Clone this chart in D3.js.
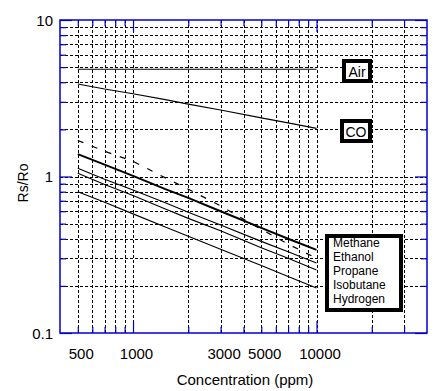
<!DOCTYPE html>
<html>
<head>
<meta charset="utf-8">
<script src="https://cdn.jsdelivr.net/npm/d3@7"></script>
<style>
  html, body { margin: 0; padding: 0; background: #fff; }
  svg { display: block; font-family: "Liberation Sans", Arial, sans-serif; }
</style>
</head>
<body>
<svg id="chart" width="434" height="391"></svg>
<script>
// ---- data ----
const concentrations = [500, 700, 1000, 1500, 2000, 3000, 5000, 7000, 10000];
const airValues       = [4.85, 4.85, 4.85, 4.85, 4.85, 4.85, 4.85, 4.85, 4.85];
const coValues        = [3.90, 3.62, 3.38, 3.10, 2.90, 2.66, 2.37, 2.20, 2.03];
const methaneValues   = [1.39, 1.19, 1.01, 0.83, 0.73, 0.60, 0.47, 0.40, 0.34];
const ethanolValues   = [1.70, 1.45, 1.25, 0.98, 0.83, 0.65, 0.46, 0.37, 0.30];
const propaneValues   = [1.13, 0.96, 0.82, 0.68, 0.59, 0.49, 0.385, 0.33, 0.28];
const isobutaneValues = [1.05, 0.89, 0.755, 0.62, 0.54, 0.45, 0.35, 0.30, 0.253];
const hydrogenValues  = [0.80, 0.685, 0.577, 0.475, 0.415, 0.343, 0.27, 0.23, 0.194];

const xMajorTicks = [1000, 10000];
const xTickLabels = [500, 1000, 3000, 5000, 10000];
const xGridValues = [500, 600, 700, 800, 900, 1000, 2000, 3000, 4000, 5000, 6000, 7000, 8000, 9000, 10000, 20000, 30000];
const yMajorTicks = [0.1, 1, 10];
const yGridValues = [0.2, 0.3, 0.4, 0.5, 0.6, 0.7, 0.8, 0.9, 1, 2, 3, 4, 5, 6, 7, 8, 9];
const legendNames = ["Methane", "Ethanol", "Propane", "Isobutane", "Hydrogen"];

// ---- layout ----
const svg = d3.select("#chart");
const L = 60, R = 427, T = 20, B = 333;
const x = d3.scaleLog().domain([400, 40000]).range([L, R]);
const y = d3.scaleLog().domain([0.1, 10]).range([B, T]);
const blue = "#0000cc";

// grid
const grid = svg.append("g").attr("stroke", "#000").attr("stroke-width", 1)
  .attr("stroke-dasharray", "3,2").attr("shape-rendering", "crispEdges");
grid.selectAll("line.v").data(xGridValues).join("line").attr("class", "v")
  .attr("x1", d => Math.round(x(d)) + 0.5).attr("x2", d => Math.round(x(d)) + 0.5)
  .attr("y1", T).attr("y2", B);
grid.selectAll("line.h").data(yGridValues).join("line").attr("class", "h")
  .attr("y1", d => Math.round(y(d)) + 0.5).attr("y2", d => Math.round(y(d)) + 0.5)
  .attr("x1", L).attr("x2", R);

// axes (ticks inward)
function styleAxis(g) {
  g.select(".domain").remove();
  g.selectAll(".tick line").attr("stroke", blue).attr("stroke-width", 1.2);
  g.selectAll(".tick text").attr("fill", "#000").attr("font-family", "Liberation Sans, Arial, sans-serif");
}
const xMinor = xGridValues.filter(d => !xMajorTicks.includes(d));
const yMinor = yGridValues.filter(d => !yMajorTicks.includes(d));

svg.append("g").attr("transform", `translate(0,${B})`)
  .call(d3.axisBottom(x).tickValues(xMinor).tickSize(-6).tickFormat(""))
  .call(styleAxis);
svg.append("g").attr("transform", `translate(0,${B})`)
  .call(d3.axisBottom(x).tickValues(xMajorTicks).tickSize(-12).tickFormat(""))
  .call(styleAxis);
svg.append("g").attr("transform", `translate(0,${B})`)
  .call(d3.axisBottom(x).tickValues(xTickLabels).tickSize(0).tickPadding(15).tickFormat(d3.format("d")))
  .call(styleAxis)
  .call(g => g.selectAll(".tick text").attr("font-size", 15).attr("dx", 3));
svg.append("g").attr("transform", `translate(0,${T})`)
  .call(d3.axisTop(x).tickValues(xMinor).tickSize(-6).tickFormat(""))
  .call(styleAxis);
svg.append("g").attr("transform", `translate(0,${T})`)
  .call(d3.axisTop(x).tickValues(xMajorTicks).tickSize(-12).tickFormat(""))
  .call(styleAxis);

svg.append("g").attr("transform", `translate(${L},0)`)
  .call(d3.axisLeft(y).tickValues(yMinor).tickSize(-6).tickFormat(""))
  .call(styleAxis);
svg.append("g").attr("transform", `translate(${L},0)`)
  .call(d3.axisLeft(y).tickValues(yMajorTicks).tickSize(-12).tickPadding(7).tickFormat(d => d < 1 ? "0.1" : String(d)))
  .call(styleAxis)
  .call(g => g.selectAll(".tick text").attr("font-size", 15).attr("dy", "0.36em"));
svg.append("g").attr("transform", `translate(${R},0)`)
  .call(d3.axisRight(y).tickValues(yMinor).tickSize(-6).tickFormat(""))
  .call(styleAxis);
svg.append("g").attr("transform", `translate(${R},0)`)
  .call(d3.axisRight(y).tickValues(yMajorTicks).tickSize(-12).tickFormat(""))
  .call(styleAxis);

// frame
svg.append("rect").attr("x", L).attr("y", T).attr("width", R - L).attr("height", B - T)
  .attr("fill", "none").attr("stroke", blue).attr("stroke-width", 1.5);

// series
const line = d3.line().x(d => x(d[0])).y(d => y(d[1]));
const series = [
  { name: "Air", values: airValues, w: 1.1, dash: null },
  { name: "CO", values: coValues, w: 1.1, dash: null },
  { name: "Methane", values: methaneValues, w: 2, dash: null },
  { name: "Ethanol", values: ethanolValues, w: 1.2, dash: "6,9" },
  { name: "Propane", values: propaneValues, w: 1.1, dash: null },
  { name: "Isobutane", values: isobutaneValues, w: 1.1, dash: null },
  { name: "Hydrogen", values: hydrogenValues, w: 1.1, dash: null }
];
svg.append("g").selectAll("path").data(series).join("path")
  .attr("fill", "none").attr("stroke", "#000")
  .attr("stroke-width", d => d.w)
  .attr("stroke-dasharray", d => d.dash)
  .attr("d", d => line(concentrations.map((c, i) => [c, d.values[i]])));

// labels boxes
function box(cx, cy, w, h) {
  svg.append("rect").attr("x", cx).attr("y", cy).attr("width", w).attr("height", h)
    .attr("fill", "#fff").attr("stroke", "#000").attr("stroke-width", 4);
}
box(344, 61, 26, 20);
svg.append("text").attr("x", 357).attr("y", 77).attr("text-anchor", "middle")
  .attr("font-size", 14).text("Air");
box(342, 121, 28, 20);
svg.append("text").attr("x", 356).attr("y", 136.5).attr("text-anchor", "middle")
  .attr("font-size", 14).text("CO");

box(327, 236, 74, 74);
svg.append("g").selectAll("text").data(legendNames).join("text")
  .attr("x", 333).attr("y", (d, i) => 247 + i * 14)
  .attr("font-size", 12).text(d => d);

// axis titles
svg.append("text").attr("x", 245).attr("y", 385).attr("text-anchor", "middle")
  .attr("font-size", 15).text("Concentration (ppm)");
svg.append("text").attr("transform", "translate(28,183) rotate(-90)")
  .attr("text-anchor", "middle").attr("font-size", 14).text("Rs/Ro");
</script>
</body>
</html>
